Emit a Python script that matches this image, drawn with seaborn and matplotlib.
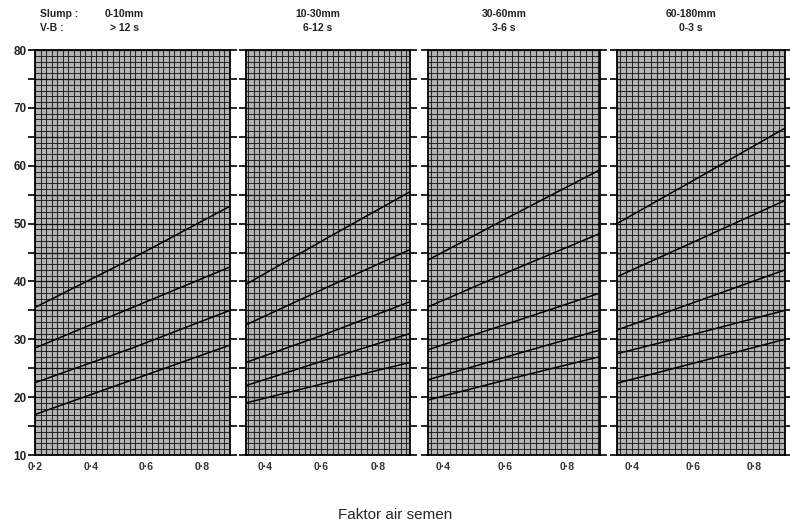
import numpy as np
import pandas as pd
import matplotlib
matplotlib.use('Agg')
import matplotlib.pyplot as plt
from matplotlib.ticker import MultipleLocator
import seaborn as sns

# panel headers
slump_labels = ['0-10mm', '10-30mm', '30-60mm', '60-180mm']
vebe_labels = ['> 12 s', '6-12 s', '3-6 s', '0-3 s']

# x range of each panel (free water / cement ratio)
x_limits = [(0.2, 0.9), (0.333, 0.913), (0.35, 0.905), (0.35, 0.9)]
x_tick_values = [[0.2, 0.4, 0.6, 0.8], [0.4, 0.6, 0.8], [0.4, 0.6, 0.8], [0.4, 0.6, 0.8]]
x_tick_labels = [['0·2', '0·4', '0·6', '0·8'], ['0·4', '0·6', '0·8'],
                 ['0·4', '0·6', '0·8'], ['0·4', '0·6', '0·8']]

# curves: x positions and y values (% fine aggregate)
p1_x = [0.2, 0.55, 0.9]
p1_curves = [[35.5, 44.0, 53.0], [28.5, 35.5, 42.5], [22.5, 28.5, 35.0], [17.0, 23.0, 29.0]]
p2_x = [0.333, 0.62, 0.913]
p2_curves = [[39.5, 47.5, 55.5], [32.5, 39.0, 45.5], [26.0, 31.0, 36.5],
             [22.0, 26.5, 31.0], [19.0, 22.5, 26.0]]
p3_x = [0.35, 0.625, 0.905]
p3_curves = [[43.7, 51.5, 59.3], [35.6, 42.0, 48.3], [28.2, 33.0, 38.0],
             [23.0, 27.3, 31.6], [19.5, 23.3, 27.0]]
p4_x = [0.35, 0.625, 0.9]
p4_curves = [[50.0, 58.2, 66.5], [40.8, 47.4, 54.0], [31.6, 36.8, 42.0],
             [27.5, 31.2, 35.0], [22.4, 26.2, 30.0]]

y_ticks = list(range(10, 81, 5))
y_tick_labels = ['10', '', '20', '', '30', '', '40', '', '50', '', '60', '', '70', '', '80']

rows = []
for p, (xs, curves) in enumerate([(p1_x, p1_curves), (p2_x, p2_curves),
                                  (p3_x, p3_curves), (p4_x, p4_curves)]):
    for c, ys in enumerate(curves):
        for xv, yv in zip(xs, ys):
            rows.append({'panel': p, 'curve': c, 'wc': xv, 'fine': yv})
df = pd.DataFrame(rows)

sns.set_style('white')
plt.rcParams['font.family'] = ['Liberation Sans', 'DejaVu Sans']

fig = plt.figure(figsize=(7.9, 5.31), dpi=100)
W, H = 790, 531
panel_px = [(35, 230), (246, 410), (428, 600), (617, 785)]
top_px, bot_px = 50, 455

for p, (l, r) in enumerate(panel_px):
    ax = fig.add_axes([l / W, (H - bot_px) / H, (r - l) / W, (bot_px - top_px) / H])
    ax.set_facecolor('#b4b4b4')
    ax.set_xlim(*x_limits[p])
    ax.set_ylim(10, 80)
    ax.xaxis.set_minor_locator(MultipleLocator(0.02))
    ax.yaxis.set_minor_locator(MultipleLocator(1))
    ax.grid(which='minor', color='#111111', linewidth=0.75, alpha=0.85)
    ax.grid(which='major', axis='y', color='black', linewidth=0.9, alpha=0.9)
    ax.grid(which='major', axis='x', color='#111111', linewidth=0.75, alpha=0.85)
    ax.set_axisbelow(True)

    sns.lineplot(data=df[df['panel'] == p], x='wc', y='fine', units='curve',
                 estimator=None, color='black', linewidth=1.1, ax=ax)

    ax.set_xticks(x_tick_values[p])
    ax.set_xticklabels(x_tick_labels[p], fontsize=7.5, fontweight='bold', color='#333333')
    ax.set_yticks(y_ticks)
    if p == 0:
        ax.set_yticklabels(y_tick_labels, fontsize=8.5, fontweight='bold', color='#222222')
    else:
        ax.set_yticklabels([])
    ax.tick_params(axis='x', which='both', length=0, pad=5)
    ax.tick_params(axis='y', which='major', direction='out', length=5, width=1.2,
                   left=True, right=True, pad=1, color='black')
    ax.tick_params(axis='y', which='minor', length=0)
    ax.set_xlabel('')
    ax.set_ylabel('')
    for s in ax.spines.values():
        s.set_color('black')
        s.set_linewidth(1.3)

    cx = (l + r) / 2
    hdr = dict(fontsize=7.5, fontweight='bold', color='#222222', va='center')
    if p == 0:
        fig.text(40 / W, 1 - 14 / H, 'Slump :', **hdr)
        fig.text(40 / W, 1 - 28 / H, 'V-B :', **hdr)
        fig.text(105 / W, 1 - 14 / H, slump_labels[p], **hdr)
        fig.text(110 / W, 1 - 28 / H, vebe_labels[p], **hdr)
    else:
        fig.text((cx - 10) / W, 1 - 14 / H, slump_labels[p], ha='center', **hdr)
        fig.text((cx - 10) / W, 1 - 28 / H, vebe_labels[p], ha='center', **hdr)

fig.text(395 / W, 1 - 515 / H, 'Faktor air semen', fontsize=11, ha='center', va='center')

fig.savefig('out.png', dpi=100)
